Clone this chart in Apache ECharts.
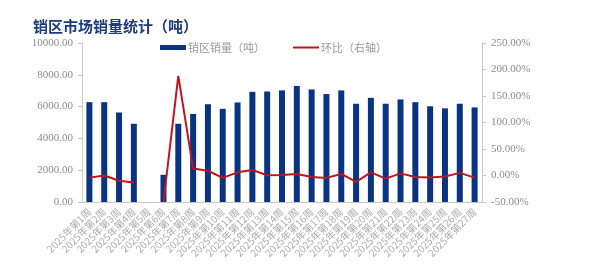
<!DOCTYPE html>
<html>
<head>
<meta charset="utf-8">
<script src="https://cdn.jsdelivr.net/npm/echarts@6/dist/echarts.min.js"></script>
<style>
html,body{margin:0;padding:0;background:#fff;}
#chart{width:597px;height:267px;}
</style>
</head>
<body>
<div id="chart"></div>
<script>
var categories = ['2025年第1周','2025年第2周','2025年第3周','2025年第4周','2025年第5周','2025年第6周','2025年第7周','2025年第8周','2025年第9周','2025年第10周','2025年第11周','2025年第12周','2025年第13周','2025年第14周','2025年第15周','2025年第16周','2025年第17周','2025年第18周','2025年第19周','2025年第20周','2025年第21周','2025年第22周','2025年第23周','2025年第24周','2025年第25周','2025年第26周','2025年第27周'];
var salesVolume = [6280, 6280, 5630, 4920, null, 1710, 4920, 5540, 6150, 5860, 6260, 6930, 6950, 7020, 7300, 7080, 6790, 7020, 6180, 6550, 6180, 6450, 6280, 6020, 5890, 6180, 5950];
var momChange = [-4, 0, -10, -13, null, -50, 188, 13, 9, -4.5, 6, 10.5, 0.5, 1, 3, -3, -4.5, 3, -12, 6, -6, 4, -3, -4, -2, 5, -4];
var leftTicks = {min: 0, max: 10000, interval: 2000};
var rightTicks = {min: -50, max: 250, interval: 50};

var chart = echarts.init(document.getElementById('chart'), null, {renderer: 'canvas'});
var grey = '#8c8c8c';
var axisLineColor = '#c8c8c8';
chart.setOption({
  animation: false,
  title: {
    text: '销区市场销量统计（吨）',
    left: 28, top: 14,
    textStyle: {fontFamily: 'Noto Sans CJK SC', fontWeight: 'bold', fontSize: 15, color: '#1f3b78'}
  },
  legend: {
    top: 37, left: 155,
    itemGap: 28,
    itemWidth: 26, itemHeight: 5,
    textStyle: {fontFamily: 'Noto Sans CJK SC', fontSize: 11, color: '#9a9a9a', padding: [0,0,0,-3]},
    data: [
      {name: '销区销量（吨）', icon: 'rect'},
      {name: '环比（右轴）', icon: 'path://M0,0 L26,0 L26,2 L0,2 Z', itemStyle: {color: '#c0141e'}}
    ]
  },
  grid: {left: 82, right: 115, top: 43, bottom: 65, containLabel: false},
  xAxis: {
    type: 'category',
    data: categories,
    axisLine: {lineStyle: {color: axisLineColor}},
    axisTick: {show: false},
    axisLabel: {rotate: 45, interval: 0, fontSize: 10, color: '#ababab', margin: 8, fontFamily: 'Noto Sans CJK SC'}
  },
  yAxis: [
    {
      type: 'value', min: leftTicks.min, max: leftTicks.max, interval: leftTicks.interval,
      axisLine: {show: true, lineStyle: {color: axisLineColor}},
      axisTick: {show: true, length: 4, lineStyle: {color: axisLineColor}},
      splitLine: {show: false},
      axisLabel: {fontSize: 11, color: grey, margin: 9, fontFamily: 'Liberation Serif', formatter: function(v){return v.toFixed(2);}}
    },
    {
      type: 'value', min: rightTicks.min, max: rightTicks.max, interval: rightTicks.interval,
      position: 'right',
      axisLine: {show: true, lineStyle: {color: axisLineColor}},
      axisTick: {show: true, length: 4, lineStyle: {color: axisLineColor}},
      splitLine: {show: false},
      axisLabel: {fontSize: 11, color: grey, margin: 9, fontFamily: 'Liberation Serif', formatter: function(v){return v.toFixed(2) + '%';}}
    }
  ],
  series: [
    {
      name: '销区销量（吨）', type: 'bar', yAxisIndex: 0,
      data: salesVolume, barWidth: 6,
      itemStyle: {color: '#0a3483'}
    },
    {
      name: '环比（右轴）', type: 'line', yAxisIndex: 1,
      data: momChange, symbol: 'none', connectNulls: false,
      lineStyle: {color: '#c0141e', width: 2},
      itemStyle: {color: '#c0141e'}
    }
  ]
});
</script>
</body>
</html>
